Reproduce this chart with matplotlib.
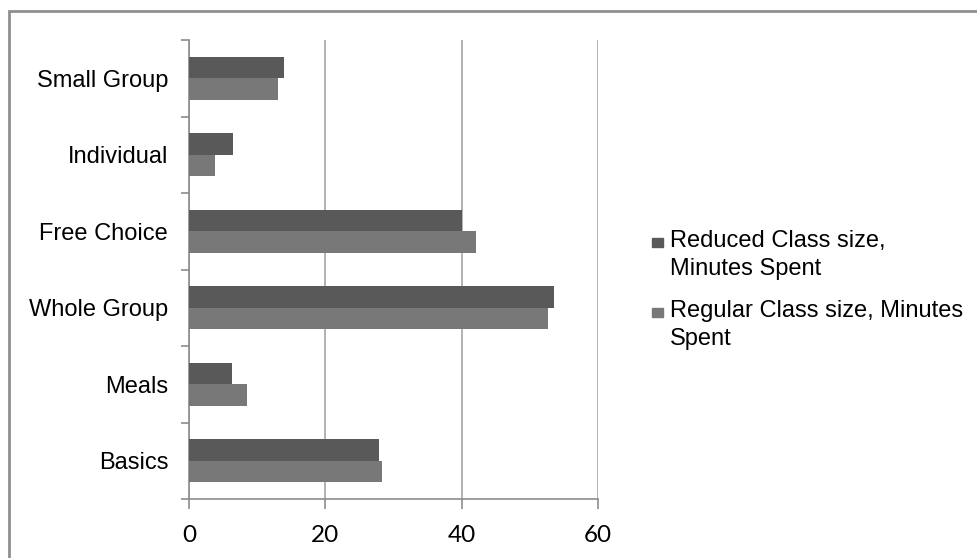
import numpy as np
import matplotlib.pyplot as plt
from matplotlib.patches import Rectangle

categories = ['Basics', 'Meals', 'Whole Group', 'Free Choice', 'Individual', 'Small Group']
reduced = [27.8, 6.3, 53.5, 40.0, 6.5, 14.0]
regular = [28.3, 8.5, 52.6, 42.1, 3.8, 13.0]
series_names = ['Reduced Class size,\nMinutes Spent', 'Regular Class size, Minutes\nSpent']
xticks = [0, 20, 40, 60]

dark = '#595959'
light = '#787878'
axis_gray = '#8c8c8c'
W, H = 977, 558

fig = plt.figure(figsize=(W / 100, H / 100), dpi=100)
# outer chart frame
fig.patches.append(Rectangle((9 / W, -0.1), 1.2, (H - 11) / H + 0.1,
                             transform=fig.transFigure, fill=False,
                             edgecolor='#8f8f8f', linewidth=2))

ax = fig.add_axes([189 / W, 59 / H, 409 / W, 459 / H])

y = np.arange(len(categories))
h = 0.283
ax.barh(y + h / 2, reduced, height=h, color=dark, zorder=3)
ax.barh(y - h / 2, regular, height=h, color=light, zorder=3)

ax.set_xlim(0, 60)
ax.set_ylim(-0.5, len(categories) - 0.5)
ax.set_xticks(xticks)
ax.set_xticklabels([str(t) for t in xticks], fontfamily='Lato', fontsize=17.5)
ax.grid(axis='x', color='#a6a6a6', linewidth=1.2, zorder=0)

ax.set_yticks(y)
ax.set_yticklabels(categories, fontfamily='Liberation Sans', fontsize=17)
ax.set_yticks(np.arange(-0.5, len(categories)), minor=True)
ax.tick_params(axis='y', which='major', length=0, pad=15)
ax.tick_params(axis='y', which='minor', length=6, color=axis_gray, width=1.2)
ax.tick_params(axis='x', length=7, color=axis_gray, width=1.2, pad=12)

for s in ['top', 'right']:
    ax.spines[s].set_visible(False)
for s in ['left', 'bottom']:
    ax.spines[s].set_color(axis_gray)
    ax.spines[s].set_linewidth(1.2)

# legend drawn by hand: square beside the first line of each wrapped label
legend_colors = [dark, light]
first_baselines = [247, 317]
for name, col, base in zip(series_names, legend_colors, first_baselines):
    fig.patches.append(Rectangle((652 / W, (H - base) / H), 11 / W, 9 / H,
                                 transform=fig.transFigure, color=col))
    for k, line in enumerate(name.split('\n')):
        fig.text(670 / W, (H - base - 27.5 * k) / H, line, va='baseline', ha='left',
                 fontfamily='Liberation Sans', fontsize=17)

fig.savefig('out.png', dpi=100)
